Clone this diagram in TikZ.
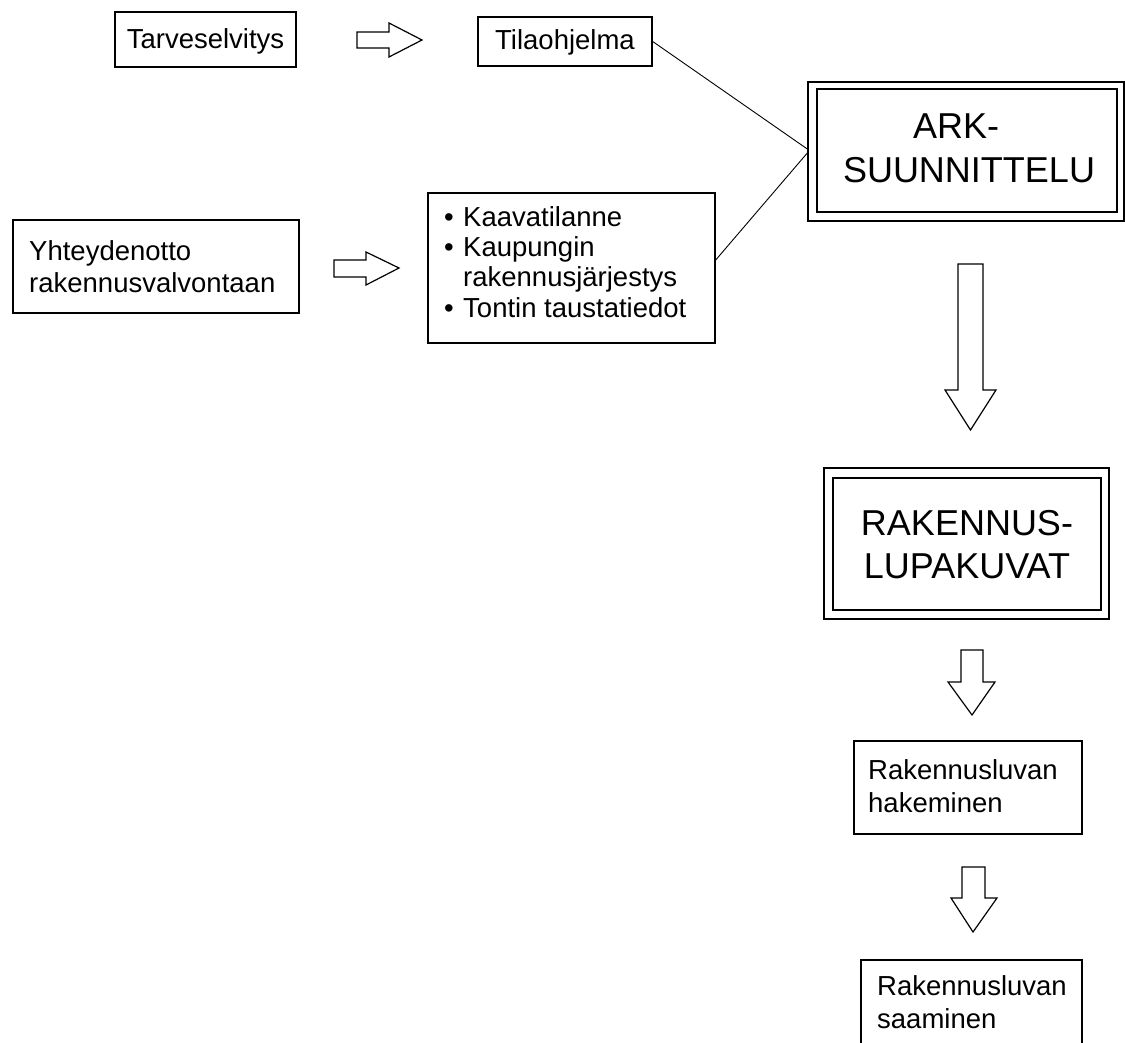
\documentclass[tikz,border=0pt]{standalone}
\usepackage{fontspec}
\setmainfont{Liberation Sans}
\begin{document}
\begin{tikzpicture}[x=1pt,y=-1pt,
  box/.style={draw=black, line width=1.4pt, inner sep=0pt, rectangle},
  link/.style={draw=black, line width=0.9pt},
  blockarrow/.style={draw=black, line width=1.2pt, fill=white, line join=miter},
  small/.style={font=\fontsize{27.5}{31}\selectfont, inner sep=0pt, anchor=base west},
  big/.style={font=\fontsize{36}{43}\selectfont, inner sep=0pt, anchor=base},
]
\useasboundingbox (0,0) rectangle (1125,1043);
\clip (0,0) rectangle (1125,1043);

% boxes
\node[box, minimum width=181pt, minimum height=55pt] (tarve) at (205.5,39.5) {};
\node[box, minimum width=174pt, minimum height=49pt] (tila) at (565,41.5) {};
\node[box, minimum width=286pt, minimum height=93pt] (yht) at (156,266.5) {};
\node[box, minimum width=287pt, minimum height=150pt] (bul) at (571.5,268) {};
\node[box, minimum width=316pt, minimum height=139pt] (ark) at (966,151.5) {};
\node[box, minimum width=300pt, minimum height=123pt] (arkin) at (967,150.5) {};
\node[box, minimum width=285pt, minimum height=151pt] (rak) at (966.5,543.5) {};
\node[box, minimum width=268pt, minimum height=132pt] (rakin) at (967,544) {};
\node[box, minimum width=228pt, minimum height=93pt] (hak) at (968,787.5) {};
\node[box, minimum width=221pt, minimum height=93pt] (saa) at (971.5,1006.5) {};

% texts
\node[small, anchor=base] (tarvet) at (205.5,49) {Tarveselvitys};
\node[small, anchor=base] (tilat) at (565,50) {Tilaohjelma};
\node[small] (yht1) at (29,261) {Yhteydenotto};
\node[small] (yht2) at (29,292) {rakennusvalvontaan};
\node[small] (b1) at (444,227) {•};
\node[small] (bt1) at (463,227) {Kaavatilanne};
\node[small] (b2) at (444,257) {•};
\node[small] (bt2) at (463,257) {Kaupungin};
\node[small] (bt3) at (463,287) {rakennusjärjestys};
\node[small] (b4) at (444,317) {•};
\node[small] (bt4) at (463,317) {Tontin taustatiedot};
\node[big] (ark1) at (956,139) {ARK-};
\node[big] (ark2) at (969,183) {SUUNNITTELU};
\node[big] (rak1) at (967,535) {RAKENNUS-};
\node[big] (rak2) at (967,578) {LUPAKUVAT};
\node[small] (hak1) at (868,779) {Rakennusluvan};
\node[small] (hak2) at (868,812) {hakeminen};
\node[small] (saa1) at (877,995) {Rakennusluvan};
\node[small] (saa2) at (877,1028) {saaminen};

% connectors
\draw[link] (tila.east) -- ([yshift=2.5pt]ark.west);
\draw[link] ([yshift=8pt]bul.east) -- ([yshift=-1.5pt]ark.west);

% block arrows
\draw[blockarrow] (357,32) -- (389,32) -- (389,23) -- (422,40) -- (389,57) -- (389,48) -- (357,48) -- cycle;
\draw[blockarrow] (334,260) -- (366,260) -- (366,252) -- (399,268) -- (366,285) -- (366,277) -- (334,277) -- cycle;
\draw[blockarrow] (958,264) -- (983,264) -- (983,390) -- (996,390) -- (970.5,430) -- (945,390) -- (958,390) -- cycle;
\draw[blockarrow] (961,650) -- (983,650) -- (983,682) -- (995,682) -- (972,715) -- (948,682) -- (961,682) -- cycle;
\draw[blockarrow] (962,867) -- (985,867) -- (985,898) -- (997,898) -- (973,932) -- (951,898) -- (962,898) -- cycle;
\end{tikzpicture}
\end{document}
